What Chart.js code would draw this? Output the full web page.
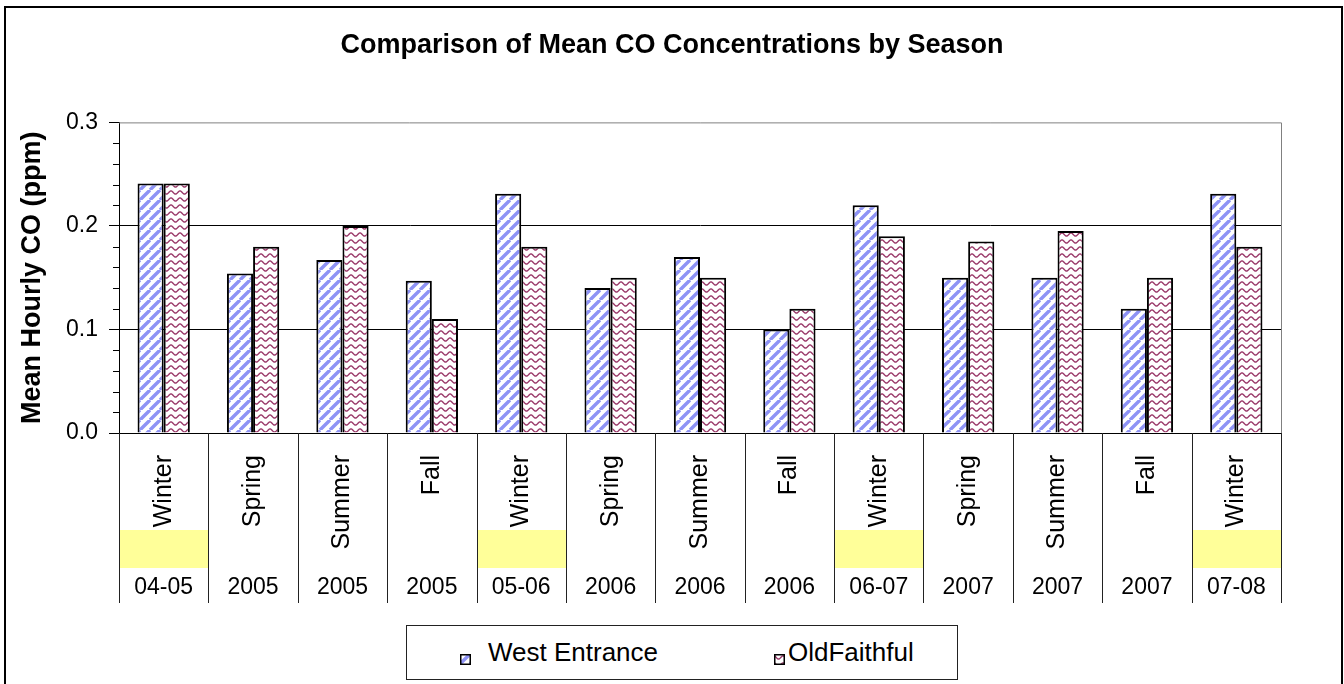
<!DOCTYPE html>
<html><head><meta charset="utf-8">
<script src="https://cdn.jsdelivr.net/npm/chart.js@4"></script>
<style>
html,body{margin:0;padding:0;background:#fff;}
#wrap{position:relative;width:1344px;height:684px;overflow:hidden;}
#legend{position:absolute;left:406px;top:625px;width:552px;height:55px;box-sizing:border-box;border:1px solid #222;background:#fff;font-family:"Liberation Sans",Arial,sans-serif;font-size:26px;color:#000;}
#legend .sw{position:absolute;top:28px;}
#legend .tx{position:absolute;top:0;height:53px;line-height:53px;white-space:nowrap;}
</style>
</head><body>
<div id="wrap"><canvas id="c" width="1344" height="684"></canvas><div id="legend"></div></div>
<script>
const seasons = ['Winter','Spring','Summer','Fall','Winter','Spring','Summer','Fall','Winter','Spring','Summer','Fall','Winter'];
const years = ['04-05','2005','2005','2005','05-06','2006','2006','2006','06-07','2007','2007','2007','07-08'];
const westEntrance = [0.241,0.154,0.167,0.147,0.231,0.140,0.170,0.100,0.220,0.150,0.150,0.120,0.231];
const oldFaithful = [0.241,0.180,0.200,0.110,0.180,0.150,0.150,0.120,0.190,0.185,0.195,0.150,0.180];
const seriesNames = ['West Entrance','OldFaithful'];
const yTicks = [0, 0.1, 0.2, 0.3];
const minorStep = 0.02;
const titleText = 'Comparison of Mean CO Concentrations by Season';
const yTitle = 'Mean Hourly CO (ppm)';

Chart.defaults.font.family = '"Liberation Sans", Arial, sans-serif';
Chart.defaults.color = '#000';

function stripeTile(){
  const s=10, c=document.createElement('canvas'); c.width=c.height=s;
  const g=c.getContext('2d'); g.fillStyle='#fff'; g.fillRect(0,0,s,s);
  g.strokeStyle='#8e93f5'; g.lineWidth=3.4; g.beginPath();
  for (const o of [-s,0,s]) { g.moveTo(o,s); g.lineTo(o+s,0); }
  g.stroke(); return c;
}
function waveTile(){
  const w=9, h=7, c=document.createElement('canvas'); c.width=w; c.height=h;
  const g=c.getContext('2d'); g.fillStyle='#fff'; g.fillRect(0,0,w,h);
  g.strokeStyle='#9a3a6a'; g.lineWidth=1.4; g.beginPath();
  for (let x=0;x<=w;x+=0.5){ const y=3.5-1.6*Math.cos(2*Math.PI*x/w); if(x===0) g.moveTo(x,y); else g.lineTo(x,y); }
  g.stroke(); return c;
}
const ctx = document.getElementById('c').getContext('2d');
const patWest = ctx.createPattern(stripeTile(),'repeat');
const patOld = ctx.createPattern(waveTile(),'repeat');

const decor = {
  id:'decor',
  beforeDatasetsDraw(chart){
    const {ctx, chartArea:a} = chart;
    ctx.save(); ctx.strokeStyle='#808080'; ctx.lineWidth=1;
    ctx.beginPath(); ctx.moveTo(a.left, a.top+0.5); ctx.lineTo(a.right+0.5, a.top+0.5); ctx.lineTo(a.right+0.5, a.bottom); ctx.stroke();
    ctx.restore();
  },
  afterDraw(chart){
    const {ctx, chartArea:a} = chart;
    const xs = chart.scales.x, ys = chart.scales.y, x2 = chart.scales.x2;
    ctx.save();
    ctx.fillStyle='#FFFF99';
    seasons.forEach((s,i)=>{
      if (s==='Winter'){
        const l=xs.getPixelForValue(i-0.5), r=xs.getPixelForValue(i+0.5);
        ctx.fillRect(l+1, 530, r-l-1, 38);
      }
    });
    ctx.strokeStyle='#222'; ctx.lineWidth=1; ctx.beginPath();
    for (let i=0;i<=seasons.length;i++){
      const x=Math.round(xs.getPixelForValue(i-0.5))+0.5;
      ctx.moveTo(x, a.bottom); ctx.lineTo(x, x2.bottom);
    }
    ctx.stroke();
    ctx.strokeStyle='#000'; ctx.beginPath();
    for (let v=minorStep; v<0.3-1e-9; v+=minorStep){
      if (Math.abs(v*10-Math.round(v*10))<1e-6) continue;
      const y=Math.round(ys.getPixelForValue(v))+0.5;
      ctx.moveTo(a.left-6, y); ctx.lineTo(a.left, y);
    }
    ctx.stroke();
    ctx.strokeStyle='#000'; ctx.lineWidth=2;
    ctx.beginPath(); ctx.moveTo(5,700); ctx.lineTo(5,7); ctx.lineTo(1342,7); ctx.lineTo(1342,700); ctx.stroke();
    ctx.restore();
  }
};

const chart = new Chart(ctx, {
  type:'bar',
  data:{
    labels: seasons,
    datasets:[
      {label:seriesNames[0], data:westEntrance, backgroundColor:patWest, borderColor:'#000', borderWidth:2, categoryPercentage:0.585, barPercentage:1},
      {label:seriesNames[1], data:oldFaithful, backgroundColor:patOld, borderColor:'#000', borderWidth:2, categoryPercentage:0.585, barPercentage:1}
    ]
  },
  options:{
    responsive:false, animation:false, devicePixelRatio:1,
    layout:{padding:{left:63,right:63,top:0,bottom:81}},
    plugins:{
      legend:{display:false}, tooltip:{enabled:false},
      title:{display:true, text:titleText, color:'#000', font:{size:27, weight:'bold'}, padding:{top:29,bottom:61}}
    },
    scales:{
      y:{
        min:0, max:0.3,
        afterBuildTicks:(s)=>{ s.ticks = yTicks.map(v=>({value:v})); },
        afterFit:(s)=>{ s.width=56; },
        ticks:{font:{size:23}, color:'#000', padding:11, callback:(v)=>Number(v).toFixed(1)},
        grid:{color:(c)=> (c.tick && Math.abs(c.tick.value-0.3)<1e-9) ? 'rgba(0,0,0,0)' : '#000', tickColor:'#000', tickLength:10, lineWidth:1},
        border:{display:true, color:'#000', width:1},
        title:{display:true, text:yTitle, color:'#000', font:{size:27, weight:'bold'}, padding:{top:-47,bottom:0}}
      },
      x:{
        weight:0,
        offset:true,
        afterFit:(s)=>{ s.height=130; },
        grid:{display:true, drawOnChartArea:false, drawTicks:false, offset:true},
        border:{display:true, color:'#000', width:1},
        ticks:{font:{size:25}, color:'#000', minRotation:90, maxRotation:90, autoSkip:false, padding:22}
      },
      x2:{
        type:'category', labels:years, position:'bottom', weight:1, offset:true,
        afterFit:(s)=>{ s.height=40; },
        grid:{display:false, drawTicks:false}, border:{display:false},
        ticks:{font:{size:23}, color:'#000', maxRotation:0, minRotation:0, autoSkip:false, padding:11}
      }
    }
  },
  plugins:[decor]
});

// legend (real text) built from the datasets
const leg = document.getElementById('legend');
const legendX = [{sw:53, tx:81},{sw:367, tx:381}];
chart.data.datasets.forEach((ds,i)=>{
  const sw=document.createElement('canvas'); sw.width=11; sw.height=11; sw.className='sw'; sw.style.left=legendX[i].sw+'px';
  const g=sw.getContext('2d'); g.fillStyle=ds.backgroundColor; g.fillRect(0,0,11,11);
  g.strokeStyle='#000'; g.lineWidth=1.5; g.strokeRect(0.75,0.75,9.5,9.5);
  const t=document.createElement('span'); t.className='tx'; t.style.left=legendX[i].tx+'px'; t.textContent=ds.label;
  leg.appendChild(sw); leg.appendChild(t);
});
</script>
</body></html>
